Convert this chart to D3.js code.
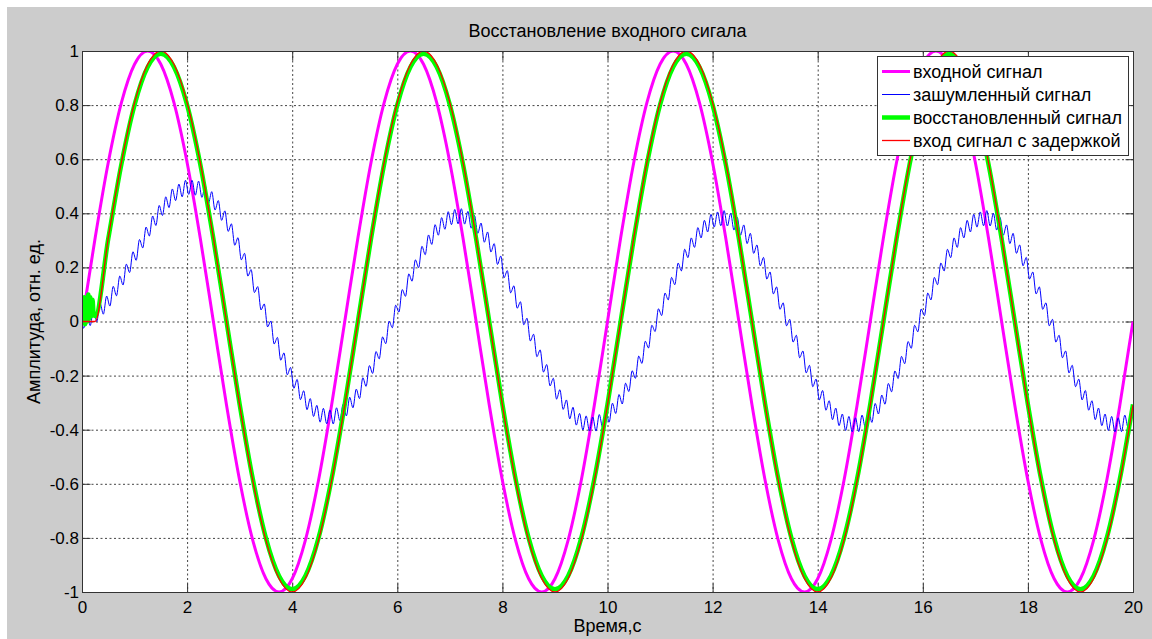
<!DOCTYPE html>
<html>
<head>
<meta charset="utf-8">
<script src="https://cdn.jsdelivr.net/npm/d3@7"></script>
<style>
    body { margin: 0; background: #fff; }
    svg text { font-family: "Liberation Sans", Arial, sans-serif; fill: #000; }
    .axis path { display: none; }
    .axis line { stroke: #333; }
    .axis text { font-size: 17px; }
    line.grid { stroke: #444; stroke-dasharray: 2, 2.5; }
    path.signal { fill: none; stroke-linejoin: round; }
</style>
</head>
<body>
<div id="chart"></div>
<script>

    // axis ticks
    const xTicks = [0, 2, 4, 6, 8, 10, 12, 14, 16, 18, 20];
    const yTicks = [-1, -0.8, -0.6, -0.4, -0.2, 0, 0.2, 0.4, 0.6, 0.8, 1];

    // input signal and delayed input, sampled every 0.25 s from t = 0
    const sampleStep = 0.25;
    const inputV = [
        0, 0.309, 0.588, 0.809, 0.951, 1, 0.951, 0.809, 0.588, 0.309,
        0, -0.309, -0.588, -0.809, -0.951, -1, -0.951, -0.809, -0.588, -0.309,
        0, 0.309, 0.588, 0.809, 0.951, 1, 0.951, 0.809, 0.588, 0.309,
        0, -0.309, -0.588, -0.809, -0.951, -1, -0.951, -0.809, -0.588, -0.309,
        0, 0.309, 0.588, 0.809, 0.951, 1, 0.951, 0.809, 0.588, 0.309,
        0, -0.309, -0.588, -0.809, -0.951, -1, -0.951, -0.809, -0.588, -0.309,
        0, 0.309, 0.588, 0.809, 0.951, 1, 0.951, 0.809, 0.588, 0.309,
        0, -0.309, -0.588, -0.809, -0.951, -1, -0.951, -0.809, -0.588, -0.309,
        0
    ];
    const delayedV = [
        0, 0, 0.309, 0.588, 0.809, 0.951, 1, 0.951, 0.809, 0.588,
        0.309, 0, -0.309, -0.588, -0.809, -0.951, -1, -0.951, -0.809, -0.588,
        -0.309, 0, 0.309, 0.588, 0.809, 0.951, 1, 0.951, 0.809, 0.588,
        0.309, 0, -0.309, -0.588, -0.809, -0.951, -1, -0.951, -0.809, -0.588,
        -0.309, 0, 0.309, 0.588, 0.809, 0.951, 1, 0.951, 0.809, 0.588,
        0.309, 0, -0.309, -0.588, -0.809, -0.951, -1, -0.951, -0.809, -0.588,
        -0.309, 0, 0.309, 0.588, 0.809, 0.951, 1, 0.951, 0.809, 0.588,
        0.309, 0, -0.309, -0.588, -0.809, -0.951, -1, -0.951, -0.809, -0.588,
        -0.309
    ];

    // restored signal: noisy start, then every 0.25 s from t = 0.25
    const restoredStartT = [0, 0.02, 0.04, 0.06, 0.08, 0.10, 0.12, 0.14, 0.16, 0.18, 0.20, 0.22];
    const restoredStartV = [0.06, 0.0, 0.09, -0.01, 0.08, 0.0, 0.10, 0.01, 0.09, 0.02, 0.08, 0.03];
    const restoredV = [
        0.02,
        0.306, 0.582, 0.801, 0.941, 0.99, 0.941, 0.801, 0.582, 0.306, 0,
        -0.306, -0.582, -0.801, -0.941, -0.99, -0.941, -0.801, -0.582, -0.306, 0,
        0.306, 0.582, 0.801, 0.941, 0.99, 0.941, 0.801, 0.582, 0.306, 0,
        -0.306, -0.582, -0.801, -0.941, -0.99, -0.941, -0.801, -0.582, -0.306, 0,
        0.306, 0.582, 0.801, 0.941, 0.99, 0.941, 0.801, 0.582, 0.306, 0,
        -0.306, -0.582, -0.801, -0.941, -0.99, -0.941, -0.801, -0.582, -0.306, 0,
        0.306, 0.582, 0.801, 0.941, 0.99, 0.941, 0.801, 0.582, 0.306, 0,
        -0.306, -0.582, -0.801, -0.941, -0.99, -0.941, -0.801, -0.582, -0.306
    ];

    // noisy signal: value at t = 0, then ripple crests/troughs every 1/16 s
    // (first one at 1/32 s), last value at t = 20
    const noisyV = [
        0,
        -0.025, 0.035, -0.015, 0.045, 0.000, 0.067, 0.027, 0.094,
        0.057, 0.130, 0.095, 0.168, 0.135, 0.212, 0.181, 0.258,
        0.226, 0.303, 0.272, 0.349, 0.316, 0.390, 0.355, 0.429,
        0.392, 0.461, 0.421, 0.490, 0.447, 0.508, 0.461, 0.522,
        0.470, 0.522, 0.467, 0.519, 0.459, 0.502, 0.437, 0.480,
        0.412, 0.447, 0.374, 0.409, 0.333, 0.361, 0.282, 0.310,
        0.228, 0.252, 0.168, 0.192, 0.107, 0.129, 0.043, 0.065,
        -0.020, 0.002, -0.083, -0.059, -0.143, -0.116, -0.197, -0.170,
        -0.247, -0.214, -0.289, -0.256, -0.326, -0.285, -0.351, -0.310,
        -0.372, -0.321, -0.378, -0.327, -0.379, -0.319, -0.366, -0.306,
        -0.349, -0.280, -0.319, -0.250, -0.285, -0.208, -0.240, -0.163,
        -0.192, -0.111, -0.138, -0.057, -0.082, 0.001, -0.023, 0.060,
        0.035, 0.118, 0.093, 0.176, 0.149, 0.228, 0.199, 0.278,
        0.247, 0.320, 0.285, 0.358, 0.319, 0.384, 0.341, 0.406,
        0.358, 0.414, 0.361, 0.417, 0.360, 0.407, 0.345, 0.392,
        0.326, 0.364, 0.293, 0.331, 0.257, 0.288, 0.211, 0.242,
        0.162, 0.188, 0.106, 0.132, 0.049, 0.073, -0.012, 0.012,
        -0.072, -0.047, -0.130, -0.105, -0.187, -0.159, -0.238, -0.210,
        -0.287, -0.252, -0.325, -0.290, -0.360, -0.317, -0.383, -0.340,
        -0.401, -0.349, -0.405, -0.353, -0.405, -0.344, -0.391, -0.330,
        -0.372, -0.302, -0.340, -0.270, -0.305, -0.228, -0.259, -0.182,
        -0.210, -0.128, -0.155, -0.073, -0.098, -0.014, -0.037, 0.047,
        0.022, 0.105, 0.080, 0.163, 0.136, 0.216, 0.187, 0.267,
        0.236, 0.309, 0.274, 0.347, 0.309, 0.374, 0.331, 0.396,
        0.349, 0.405, 0.354, 0.410, 0.353, 0.400, 0.338, 0.385,
        0.319, 0.357, 0.288, 0.326, 0.252, 0.283, 0.206, 0.237,
        0.157, 0.183, 0.102, 0.128, 0.045, 0.069, -0.016, 0.008,
        -0.076, -0.051, -0.134, -0.109, -0.190, -0.162, -0.241, -0.213,
        -0.290, -0.255, -0.328, -0.293, -0.363, -0.320, -0.385, -0.342,
        -0.403, -0.351, -0.408, -0.356, -0.407, -0.346, -0.392, -0.331,
        -0.373, -0.303, -0.342, -0.272, -0.306, -0.229, -0.260, -0.183,
        -0.211, -0.129, -0.156, -0.074, -0.099, -0.014, -0.038, 0.046,
        0.022, 0.105, 0.080, 0.163, 0.136, 0.216, 0.187, 0.267,
        0.236, 0.309, 0.274, 0.347, 0.309, 0.374, 0.331, 0.396,
        0.349, 0.405, 0.354, 0.410, 0.353, 0.400, 0.338, 0.385,
        0.319, 0.357, 0.288, 0.326, 0.252, 0.283, 0.206, 0.237,
        0.157, 0.183, 0.102, 0.128, 0.045, 0.069, -0.016, 0.008,
        -0.076, -0.051, -0.134, -0.109, -0.190, -0.162, -0.241, -0.213,
        -0.290, -0.255, -0.328, -0.293, -0.363, -0.320, -0.385, -0.342,
        -0.403, -0.351, -0.408, -0.356, -0.407, -0.346, -0.392, -0.331,
        -0.354
    ];

    const legendLabels = ["входной сигнал", "зашумленный сигнал", "восстановленный сигнал", "вход сигнал с задержкой"];

    (function () {
        const width = 1152;
        const height = 639;
        const left = 82, right = 1133, top = 51, bottom = 592;

        const svg = d3.select("#chart").append("svg")
            .attr("width", width)
            .attr("height", height);

        svg.append("rect")
            .attr("x", 7).attr("y", 7)
            .attr("width", width - 7).attr("height", height - 7)
            .attr("fill", "#cccccc");

        const x = d3.scaleLinear().domain([0, 20]).range([left, right]);
        const y = d3.scaleLinear().domain([-1, 1]).range([bottom, top]);

        svg.append("defs").append("clipPath").attr("id", "plotClip")
            .append("rect")
            .attr("x", left + 0.5).attr("y", top + 0.5)
            .attr("width", right - left).attr("height", bottom - top);

        svg.append("rect")
            .attr("x", left + 0.5).attr("y", top + 0.5)
            .attr("width", right - left).attr("height", bottom - top)
            .attr("fill", "#fff");

        // dotted grid
        const gGrid = svg.append("g");
        gGrid.selectAll("line.gx").data(xTicks.slice(1, -1)).enter()
            .append("line")
            .attr("class", "grid")
            .attr("x1", d => x(d) + 0.5).attr("x2", d => x(d) + 0.5)
            .attr("y1", top + 0.5).attr("y2", bottom + 0.5);
        gGrid.selectAll("line.gy").data(yTicks.slice(1, -1)).enter()
            .append("line")
            .attr("class", "grid")
            .attr("y1", d => y(d) + 0.5).attr("y2", d => y(d) + 0.5)
            .attr("x1", left + 0.5).attr("x2", right + 0.5);

        // axes, ticks pointing inward
        svg.append("g").attr("class", "axis")
            .attr("transform", "translate(0," + (bottom + 0.5) + ")")
            .call(d3.axisBottom(x).tickValues(xTicks).tickSizeInner(-9).tickSizeOuter(0).tickPadding(8)
                .tickFormat(d => String(d)));
        svg.append("g").attr("class", "axis")
            .attr("transform", "translate(0," + (top + 0.5) + ")")
            .call(d3.axisTop(x).tickValues(xTicks).tickSizeInner(-9).tickSizeOuter(0).tickFormat(""));
        svg.append("g").attr("class", "axis")
            .attr("transform", "translate(" + (left + 0.5) + ",0)")
            .call(d3.axisLeft(y).tickValues(yTicks).tickSizeInner(-8).tickSizeOuter(0).tickPadding(3.5)
                .tickFormat(d => String(d)));
        svg.append("g").attr("class", "axis")
            .attr("transform", "translate(" + (right + 0.5) + ",0)")
            .call(d3.axisRight(y).tickValues(yTicks).tickSizeInner(-8).tickSizeOuter(0).tickFormat(""));

        // signals
        const line = d3.line()
            .x(d => x(d.t))
            .y(d => y(d.v))
            .curve(d3.curveMonotoneX);

        const inputPts = inputV.map((v, i) => ({t: i * sampleStep, v: v}));
        const delayedPts = delayedV.map((v, i) => ({t: i * sampleStep, v: v}));
        const restoredPts = restoredStartT.map((t, i) => ({t: t, v: restoredStartV[i]}))
            .concat(restoredV.map((v, i) => ({t: (i + 1) * sampleStep, v: v})));
        const last = noisyV.length - 1;
        const noisyPts = noisyV.map((v, i) => ({
            t: i === 0 ? 0 : (i === last ? 20 : (2 * i - 1) / 32),
            v: v
        }));

        const series = [
            {pts: inputPts, color: "#ff00ff", w: 3},
            {pts: noisyPts, color: "#0000ff", w: 1},
            {pts: restoredPts, color: "#00ff00", w: 4.5},
            {pts: delayedPts, color: "#ff0000", w: 1.3}
        ];

        const gLines = svg.append("g").attr("clip-path", "url(#plotClip)");
        gLines.selectAll("path.signal").data(series).enter()
            .append("path")
            .attr("class", "signal")
            .attr("d", d => line(d.pts))
            .attr("stroke", d => d.color)
            .attr("stroke-width", d => d.w);

        // frame
        svg.append("rect")
            .attr("x", left + 0.5).attr("y", top + 0.5)
            .attr("width", right - left).attr("height", bottom - top)
            .attr("fill", "none")
            .attr("stroke", "#333");

        // titles
        svg.append("text")
            .attr("x", (left + right) / 2).attr("y", 37)
            .attr("text-anchor", "middle")
            .style("font-size", "18px")
            .text("Восстановление входного сигала");
        svg.append("text")
            .attr("x", (left + right) / 2).attr("y", 632)
            .attr("text-anchor", "middle")
            .style("font-size", "18px")
            .text("Время,с");
        svg.append("text")
            .attr("transform", "translate(40," + ((top + bottom) / 2) + ") rotate(-90)")
            .attr("text-anchor", "middle")
            .style("font-size", "18px")
            .text("Амплитуда, отн. ед.");

        // legend
        const gLegend = svg.append("g");
        gLegend.append("rect")
            .attr("x", 877.5).attr("y", 56.5)
            .attr("width", 251).attr("height", 99)
            .attr("fill", "#fff")
            .attr("stroke", "#333");
        const entries = gLegend.selectAll("g.entry").data(series).enter()
            .append("g")
            .attr("class", "entry")
            .attr("transform", (d, i) => "translate(0," + (71.5 + i * 23) + ")");
        entries.append("line")
            .attr("x1", 882).attr("x2", 910)
            .attr("stroke", d => d.color)
            .attr("stroke-width", d => d.w);
        entries.append("text")
            .attr("x", 913)
            .attr("dy", "0.35em")
            .style("font-size", "18px")
            .text((d, i) => legendLabels[i]);
    })();
</script>
</body>
</html>
